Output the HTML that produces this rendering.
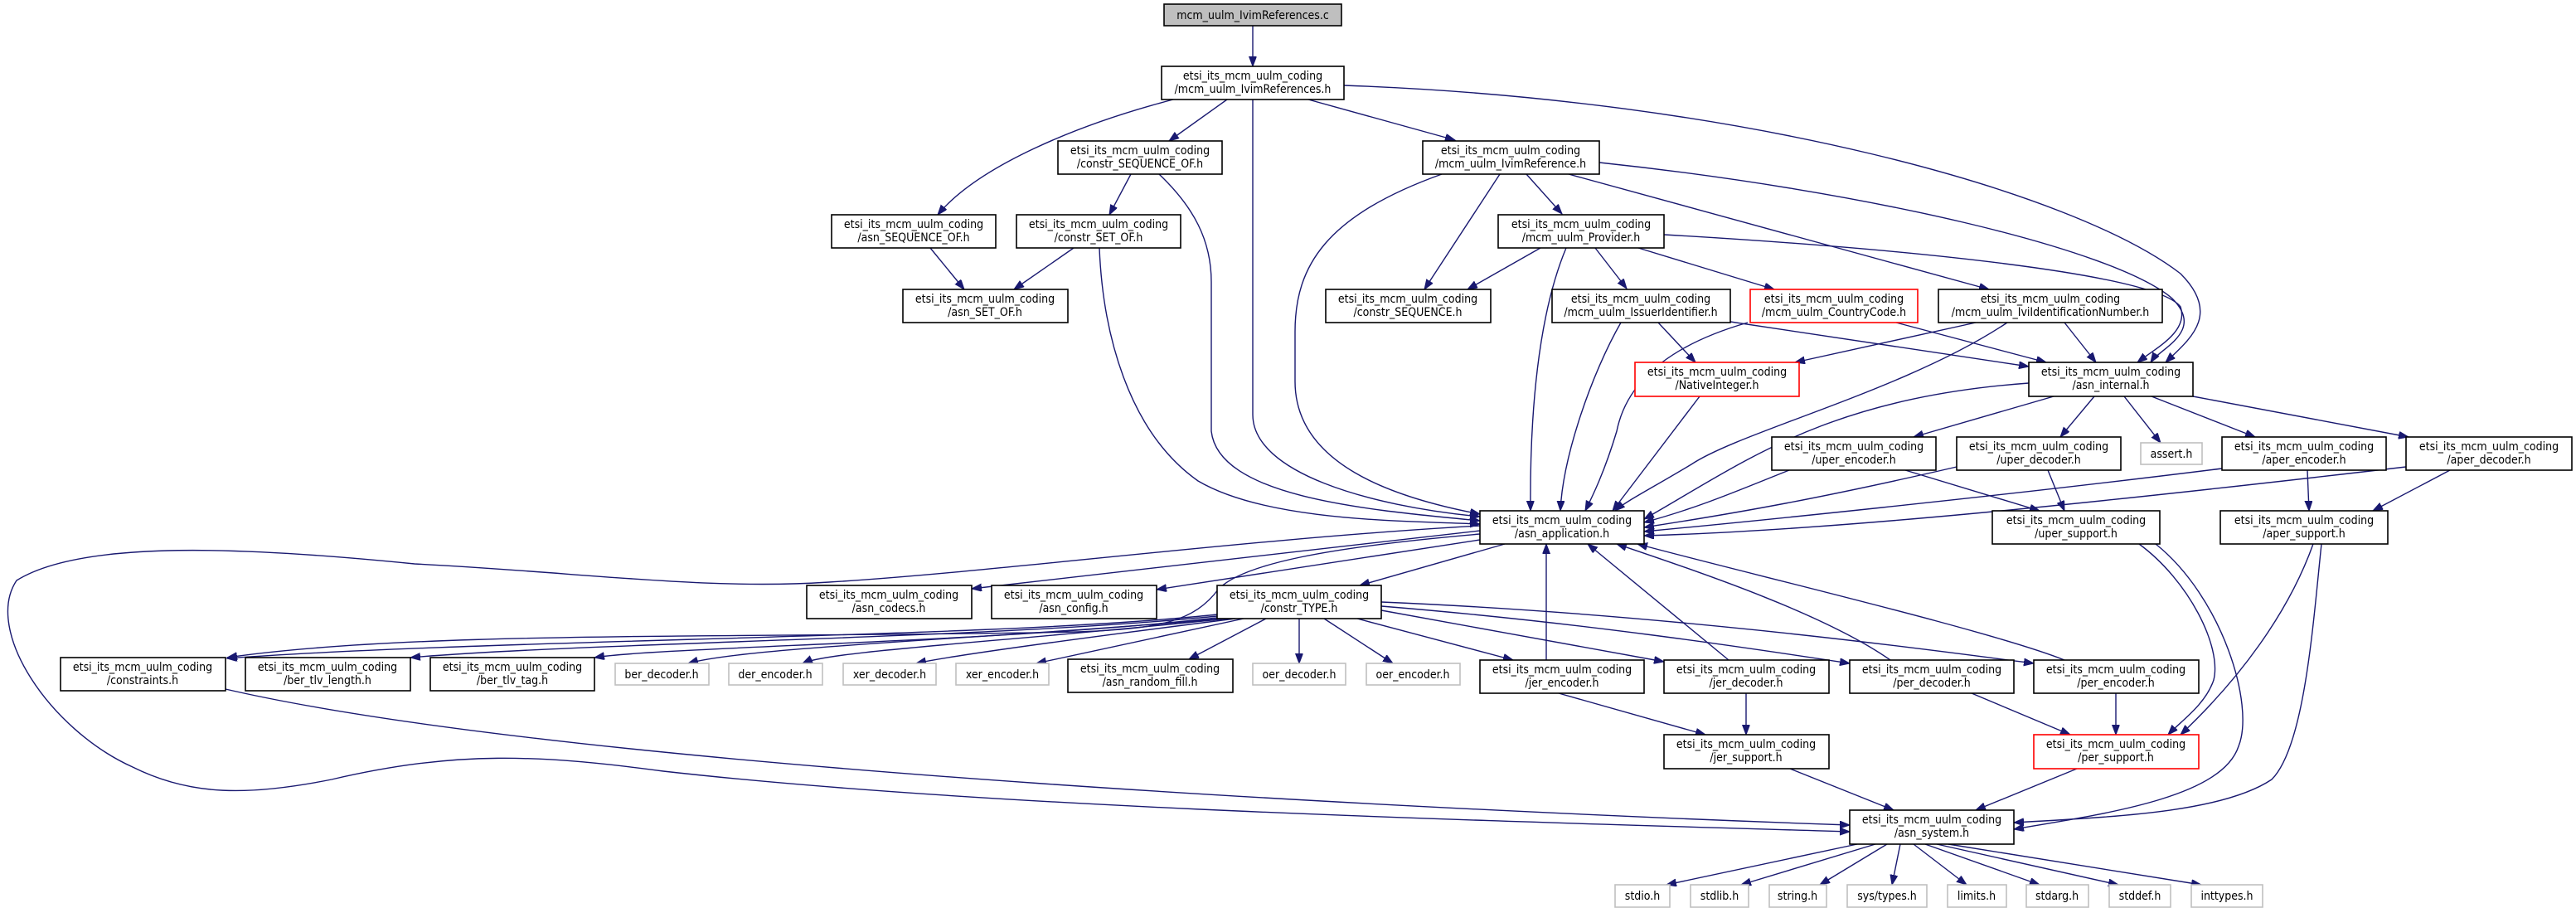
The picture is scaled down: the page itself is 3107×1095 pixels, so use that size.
<!DOCTYPE html>
<html><head><meta charset="utf-8"><style>
html,body{margin:0;padding:0;background:#fff;}
svg{display:block;}
text{font-family:"DejaVu Sans Condensed","DejaVu Sans","Liberation Sans",sans-serif;font-size:14px;fill:#000;text-anchor:middle;}
.b{fill:#fff;stroke:#000;stroke-width:1.6;}
.g{fill:#fff;stroke:#bfbfbf;stroke-width:1.6;}
.r{fill:#fff;stroke:#ff0000;stroke-width:1.6;}
.e{fill:none;stroke:#191970;stroke-width:1.4;marker-end:url(#a);}
</style></head><body>
<svg width="3107" height="1095" viewBox="0 0 3107 1095" xmlns="http://www.w3.org/2000/svg">
<defs><marker id="a" markerUnits="userSpaceOnUse" markerWidth="14" markerHeight="10" refX="12" refY="4.5" orient="auto"><path d="M0,0 L12,4.5 L0,9 z" fill="#191970" stroke="#191970"/></marker></defs>
<g>
<path class="e" d="M1511,31 L1511,80"/>
<path class="e" d="M1415,120 C1300,150 1180,200 1131,259"/>
<path class="e" d="M1480,120 L1410,170"/>
<path class="e" d="M1511,120 L1511,500 C1511,570 1650,610 1785,623"/>
<path class="e" d="M1578,120 L1755,169"/>
<path class="e" d="M1621,103 C2100,120 2500,230 2630,330 C2680,380 2640,410 2612,437"/>
<path class="e" d="M1929,196 C2250,230 2550,300 2620,360 C2660,400 2605,420 2594,437"/>
<path class="e" d="M2007,283 C2300,300 2600,330 2630,370 C2640,400 2600,420 2578,437"/>
<path class="e" d="M1364,210 L1338,259"/>
<path class="e" d="M1398,210 C1440,250 1461,290 1461,340 L1461,520 C1470,600 1650,615 1785,628"/>
<path class="e" d="M1326,299 C1330,400 1360,520 1445,580 C1530,630 1700,628 1785,632"/>
<path class="e" d="M1122,299 L1163,349"/>
<path class="e" d="M1295,299 L1223,349"/>
<path class="e" d="M1739,210 C1600,260 1562,320 1562,400 L1562,460 C1562,560 1680,600 1785,620"/>
<path class="e" d="M1809,210 L1718,349"/>
<path class="e" d="M1841,210 L1884,258"/>
<path class="e" d="M1892,210 L2399,349"/>
<path class="e" d="M1858,299 L1770,349"/>
<path class="e" d="M1924,299 L1962,348"/>
<path class="e" d="M1976,299 L2140,349"/>
<path class="e" d="M1889,299 C1855,380 1845,500 1846,616"/>
<path class="e" d="M2000,389 L2045,437"/>
<path class="e" d="M2087,388 L2447,442"/>
<path class="e" d="M1955,389 C1920,450 1885,550 1882,616"/>
<path class="e" d="M2287,389 L2468,437"/>
<path class="e" d="M2108,389 C2000,420 1960,470 1950,520 C1935,570 1920,600 1912,616"/>
<path class="e" d="M2383,389 L2165,437"/>
<path class="e" d="M2490,389 L2528,437"/>
<path class="e" d="M2421,389 C2300,470 2100,520 2040,560 C1990,590 1960,605 1948,616"/>
<path class="e" d="M2050,478 L1945,616"/>
<path class="e" d="M2447,462 C2200,480 2100,560 1983,626"/>
<path class="e" d="M2477,478 L2308,527"/>
<path class="e" d="M2526,478 L2485,527"/>
<path class="e" d="M2562,478 L2606,534"/>
<path class="e" d="M2595,478 L2720,527"/>
<path class="e" d="M2645,478 L2905,527"/>
<path class="e" d="M2158,567 C2100,590 2050,612 1983,630"/>
<path class="e" d="M2298,567 L2460,616"/>
<path class="e" d="M2360,563 C2200,600 2100,618 1983,636"/>
<path class="e" d="M2470,567 L2490,616"/>
<path class="e" d="M2680,565 C2400,600 2100,630 1983,641"/>
<path class="e" d="M2783,567 L2785,616"/>
<path class="e" d="M2902,563 C2500,610 2200,640 1983,646"/>
<path class="e" d="M2955,567 L2862,616"/>
<path class="e" d="M2580,656 C2640,700 2680,780 2670,820 C2660,850 2630,870 2615,886"/>
<path class="e" d="M2600,656 C2680,720 2720,850 2700,900 C2680,960 2550,980 2429,1000"/>
<path class="e" d="M2790,656 C2760,740 2700,820 2630,886"/>
<path class="e" d="M2800,656 C2790,750 2780,900 2740,940 C2680,980 2550,985 2429,992"/>
<path class="e" d="M1785,640 L1172,710"/>
<path class="e" d="M1785,651 L1395,711"/>
<path class="e" d="M1815,656 L1640,706"/>
<path class="e" d="M1785,634 C1500,650 1200,690 1000,702 C850,712 700,690 500,680 C300,660 100,650 20,700 C-20,760 60,880 160,925 C230,960 300,960 400,940 C550,905 650,910 800,930 C1200,975 1800,990 2231,1003"/>
<path class="e" d="M1785,644 C1600,660 1500,680 1470,710 C1440,750 1400,758 1300,762 C900,770 500,760 274,793"/>
<path class="e" d="M1468,741 C1200,770 600,770 274,794"/>
<path class="e" d="M1468,743 C1200,770 700,775 495,793"/>
<path class="e" d="M1468,745 C1200,775 800,780 717,793"/>
<path class="e" d="M1475,746 C1200,770 900,780 830,800"/>
<path class="e" d="M1480,746 C1200,775 1000,785 968,800"/>
<path class="e" d="M1490,746 C1300,770 1150,790 1105,800"/>
<path class="e" d="M1500,746 L1250,800"/>
<path class="e" d="M1527,746 L1434,795"/>
<path class="e" d="M1567,746 L1567,800"/>
<path class="e" d="M1597,746 L1680,800"/>
<path class="e" d="M1637,746 L1825,796"/>
<path class="e" d="M1666,736 L2007,798"/>
<path class="e" d="M1666,731 C1900,750 2100,780 2231,800"/>
<path class="e" d="M1666,726 C2000,740 2300,780 2453,800"/>
<path class="e" d="M1865,796 L1865,656"/>
<path class="e" d="M2085,796 L1915,656"/>
<path class="e" d="M2280,796 C2200,740 2050,690 1950,656"/>
<path class="e" d="M2490,796 C2400,760 2100,690 1975,656"/>
<path class="e" d="M1880,836 L2057,886"/>
<path class="e" d="M2106,836 L2106,886"/>
<path class="e" d="M2378,836 L2497,886"/>
<path class="e" d="M2552,836 L2552,886"/>
<path class="e" d="M2159,927 L2284,977"/>
<path class="e" d="M2505,927 L2383,977"/>
<path class="e" d="M272,831 C700,930 1800,980 2231,995"/>
<path class="e" d="M2240,1018 L2010,1067"/>
<path class="e" d="M2262,1018 L2100,1067"/>
<path class="e" d="M2276,1018 L2195,1067"/>
<path class="e" d="M2292,1018 L2282,1067"/>
<path class="e" d="M2308,1018 L2372,1067"/>
<path class="e" d="M2322,1018 L2460,1067"/>
<path class="e" d="M2336,1018 L2555,1067"/>
<path class="e" d="M2350,1018 L2655,1067"/>
</g>
<g>
<rect x="1404" y="5" width="214" height="26" fill="#bfbfbf" stroke="#000" stroke-width="1.6"/><text x="1511" y="23">mcm_uulm_IvimReferences.c</text>
<rect class="b" x="1401" y="80" width="220" height="40"/><text x="1511" y="96">etsi_its_mcm_uulm_coding</text><text x="1511" y="112">/mcm_uulm_IvimReferences.h</text>
<rect class="b" x="1003" y="259" width="198" height="40"/><text x="1102" y="275">etsi_its_mcm_uulm_coding</text><text x="1102" y="291">/asn_SEQUENCE_OF.h</text>
<rect class="b" x="1276" y="170" width="198" height="40"/><text x="1375" y="186">etsi_its_mcm_uulm_coding</text><text x="1375" y="202">/constr_SEQUENCE_OF.h</text>
<rect class="b" x="1226" y="259" width="198" height="40"/><text x="1325" y="275">etsi_its_mcm_uulm_coding</text><text x="1325" y="291">/constr_SET_OF.h</text>
<rect class="b" x="1089" y="349" width="199" height="40"/><text x="1188" y="365">etsi_its_mcm_uulm_coding</text><text x="1188" y="381">/asn_SET_OF.h</text>
<rect class="b" x="1716" y="170" width="213" height="40"/><text x="1822" y="186">etsi_its_mcm_uulm_coding</text><text x="1822" y="202">/mcm_uulm_IvimReference.h</text>
<rect class="b" x="1807" y="259" width="200" height="40"/><text x="1907" y="275">etsi_its_mcm_uulm_coding</text><text x="1907" y="291">/mcm_uulm_Provider.h</text>
<rect class="b" x="1599" y="349" width="199" height="40"/><text x="1698" y="365">etsi_its_mcm_uulm_coding</text><text x="1698" y="381">/constr_SEQUENCE.h</text>
<rect class="b" x="1872" y="349" width="215" height="40"/><text x="1979" y="365">etsi_its_mcm_uulm_coding</text><text x="1979" y="381">/mcm_uulm_IssuerIdentifier.h</text>
<rect class="r" x="2111" y="349" width="202" height="40"/><text x="2212" y="365">etsi_its_mcm_uulm_coding</text><text x="2212" y="381">/mcm_uulm_CountryCode.h</text>
<rect class="b" x="2338" y="349" width="270" height="40"/><text x="2473" y="365">etsi_its_mcm_uulm_coding</text><text x="2473" y="381">/mcm_uulm_IviIdentificationNumber.h</text>
<rect class="r" x="1972" y="437" width="198" height="41"/><text x="2071" y="453">etsi_its_mcm_uulm_coding</text><text x="2071" y="469">/NativeInteger.h</text>
<rect class="b" x="2447" y="437" width="198" height="41"/><text x="2546" y="453">etsi_its_mcm_uulm_coding</text><text x="2546" y="469">/asn_internal.h</text>
<rect class="g" x="2582" y="534" width="74" height="26"/><text x="2619" y="552">assert.h</text>
<rect class="b" x="2137" y="527" width="198" height="40"/><text x="2236" y="543">etsi_its_mcm_uulm_coding</text><text x="2236" y="559">/uper_encoder.h</text>
<rect class="b" x="2360" y="527" width="198" height="40"/><text x="2459" y="543">etsi_its_mcm_uulm_coding</text><text x="2459" y="559">/uper_decoder.h</text>
<rect class="b" x="2680" y="527" width="198" height="40"/><text x="2779" y="543">etsi_its_mcm_uulm_coding</text><text x="2779" y="559">/aper_encoder.h</text>
<rect class="b" x="2902" y="527" width="200" height="40"/><text x="3002" y="543">etsi_its_mcm_uulm_coding</text><text x="3002" y="559">/aper_decoder.h</text>
<rect class="b" x="1785" y="616" width="198" height="40"/><text x="1884" y="632">etsi_its_mcm_uulm_coding</text><text x="1884" y="648">/asn_application.h</text>
<rect class="b" x="2403" y="616" width="202" height="40"/><text x="2504" y="632">etsi_its_mcm_uulm_coding</text><text x="2504" y="648">/uper_support.h</text>
<rect class="b" x="2678" y="616" width="202" height="40"/><text x="2779" y="632">etsi_its_mcm_uulm_coding</text><text x="2779" y="648">/aper_support.h</text>
<rect class="b" x="973" y="706" width="199" height="40"/><text x="1072" y="722">etsi_its_mcm_uulm_coding</text><text x="1072" y="738">/asn_codecs.h</text>
<rect class="b" x="1196" y="706" width="199" height="40"/><text x="1295" y="722">etsi_its_mcm_uulm_coding</text><text x="1295" y="738">/asn_config.h</text>
<rect class="b" x="1468" y="706" width="198" height="40"/><text x="1567" y="722">etsi_its_mcm_uulm_coding</text><text x="1567" y="738">/constr_TYPE.h</text>
<rect class="b" x="73" y="793" width="199" height="40"/><text x="172" y="809">etsi_its_mcm_uulm_coding</text><text x="172" y="825">/constraints.h</text>
<rect class="b" x="296" y="793" width="199" height="40"/><text x="395" y="809">etsi_its_mcm_uulm_coding</text><text x="395" y="825">/ber_tlv_length.h</text>
<rect class="b" x="519" y="793" width="198" height="40"/><text x="618" y="809">etsi_its_mcm_uulm_coding</text><text x="618" y="825">/ber_tlv_tag.h</text>
<rect class="g" x="742" y="800" width="113" height="26"/><text x="798" y="818">ber_decoder.h</text>
<rect class="g" x="879" y="800" width="113" height="26"/><text x="935" y="818">der_encoder.h</text>
<rect class="g" x="1017" y="800" width="112" height="26"/><text x="1073" y="818">xer_decoder.h</text>
<rect class="g" x="1153" y="800" width="112" height="26"/><text x="1209" y="818">xer_encoder.h</text>
<rect class="b" x="1288" y="795" width="199" height="40"/><text x="1387" y="811">etsi_its_mcm_uulm_coding</text><text x="1387" y="827">/asn_random_fill.h</text>
<rect class="g" x="1511" y="800" width="112" height="26"/><text x="1567" y="818">oer_decoder.h</text>
<rect class="g" x="1648" y="800" width="113" height="26"/><text x="1704" y="818">oer_encoder.h</text>
<rect class="b" x="1785" y="796" width="198" height="40"/><text x="1884" y="812">etsi_its_mcm_uulm_coding</text><text x="1884" y="828">/jer_encoder.h</text>
<rect class="b" x="2007" y="796" width="199" height="40"/><text x="2106" y="812">etsi_its_mcm_uulm_coding</text><text x="2106" y="828">/jer_decoder.h</text>
<rect class="b" x="2231" y="796" width="198" height="40"/><text x="2330" y="812">etsi_its_mcm_uulm_coding</text><text x="2330" y="828">/per_decoder.h</text>
<rect class="b" x="2453" y="796" width="199" height="40"/><text x="2552" y="812">etsi_its_mcm_uulm_coding</text><text x="2552" y="828">/per_encoder.h</text>
<rect class="b" x="2007" y="886" width="199" height="41"/><text x="2106" y="902">etsi_its_mcm_uulm_coding</text><text x="2106" y="918">/jer_support.h</text>
<rect class="r" x="2453" y="886" width="199" height="41"/><text x="2552" y="902">etsi_its_mcm_uulm_coding</text><text x="2552" y="918">/per_support.h</text>
<rect class="b" x="2231" y="977" width="198" height="41"/><text x="2330" y="993">etsi_its_mcm_uulm_coding</text><text x="2330" y="1009">/asn_system.h</text>
<rect class="g" x="1948" y="1067" width="66" height="27"/><text x="1981" y="1085">stdio.h</text>
<rect class="g" x="2039" y="1067" width="70" height="27"/><text x="2074" y="1085">stdlib.h</text>
<rect class="g" x="2134" y="1067" width="69" height="27"/><text x="2168" y="1085">string.h</text>
<rect class="g" x="2228" y="1067" width="96" height="27"/><text x="2276" y="1085">sys/types.h</text>
<rect class="g" x="2349" y="1067" width="71" height="27"/><text x="2384" y="1085">limits.h</text>
<rect class="g" x="2444" y="1067" width="75" height="27"/><text x="2481" y="1085">stdarg.h</text>
<rect class="g" x="2544" y="1067" width="74" height="27"/><text x="2581" y="1085">stddef.h</text>
<rect class="g" x="2643" y="1067" width="86" height="27"/><text x="2686" y="1085">inttypes.h</text>
</g>
</svg>
</body></html>
